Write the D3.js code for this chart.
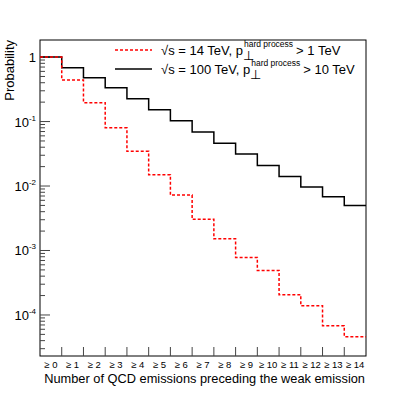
<!DOCTYPE html>
<html>
<head>
<meta charset="utf-8">
<script src="https://cdn.jsdelivr.net/npm/d3@7"></script>
<style>
  body { margin: 0; background: #fff; }
  svg { display: block; font-family: "Liberation Sans", Arial, sans-serif; }
</style>
</head>
<body>
<svg id="chart" width="407" height="396"></svg>
<script>
// ---- data ----
const binLabels = ['0', '1', '2', '3', '4', '5', '6', '7', '8', '9', '10', '11', '12', '13', '14'];
const prob100 = [1.0, 0.68, 0.48, 0.334, 0.226, 0.152, 0.103, 0.0688, 0.0459, 0.0313, 0.0209, 0.0141, 0.0097, 0.0068, 0.0050];
const prob14 = [1.0, 0.44, 0.196, 0.080, 0.0345, 0.0150, 0.00724, 0.00304, 0.00152, 0.00078, 0.00049, 0.000206, 0.000139, 0.000068, 0.000046];
const yDecades = [0, -1, -2, -3, -4];

// ---- layout ----
const frame = { left: 40, right: 366, top: 40, bottom: 356 };
const svg = d3.select('#chart');

const x = d3.scaleLinear().domain([0, binLabels.length]).range([frame.left, frame.right]);
const y = d3.scaleLog().domain([2.31e-5, 1.84]).range([frame.bottom, frame.top]);

// step path for a histogram
function stepPath(values) {
  const pts = [];
  values.forEach((v, i) => {
    pts.push([x(i), y(v)]);
    pts.push([x(i + 1), y(v)]);
  });
  return d3.line()(pts);
}

// frame
svg.append('rect')
  .attr('x', frame.left).attr('y', frame.top)
  .attr('width', frame.right - frame.left).attr('height', frame.bottom - frame.top)
  .attr('fill', 'none').attr('stroke', '#000').attr('stroke-width', 1);

// y ticks (major + minor)
const [yMin, yMax] = y.domain();
for (let e = -5; e <= 0; e++) {
  for (let m = 1; m <= 9; m++) {
    const v = m * Math.pow(10, e);
    if (v < yMin || v > yMax) continue;
    const len = m === 1 ? 10 : 5;
    svg.append('line')
      .attr('x1', frame.left).attr('x2', frame.left + len)
      .attr('y1', y(v)).attr('y2', y(v))
      .attr('stroke', '#444').attr('stroke-width', 1);
  }
}

// y tick labels
yDecades.forEach(d => {
  const t = svg.append('text')
    .attr('x', 36).attr('y', y(Math.pow(10, d)) + 5)
    .attr('text-anchor', 'end')
    .attr('font-size', 13);
  if (d === 0) {
    t.text('1');
  } else {
    t.append('tspan').text('10');
    t.append('tspan').attr('font-size', 8).attr('dy', -6).text(String(d));
  }
});

// x ticks
d3.range(1, binLabels.length).forEach(i => {
  svg.append('line')
    .attr('x1', x(i)).attr('x2', x(i))
    .attr('y1', frame.bottom).attr('y2', frame.bottom - 9)
    .attr('stroke', '#444').attr('stroke-width', 1);
});

// x tick labels
binLabels.forEach((lab, i) => {
  svg.append('text')
    .attr('x', x(i + 0.5)).attr('y', 368)
    .attr('text-anchor', 'middle')
    .attr('font-size', 9.5)
    .text('\u2265 ' + lab);
});

// axis titles
svg.append('text')
  .attr('x', frame.right - 1).attr('y', 383)
  .attr('text-anchor', 'end')
  .attr('font-size', 12.8)
  .text('Number of QCD emissions preceding the weak emission');

svg.append('text')
  .attr('transform', `translate(14, ${frame.top}) rotate(-90)`)
  .attr('text-anchor', 'end')
  .attr('font-size', 13)
  .text('Probability');

// histograms
svg.append('path')
  .attr('d', stepPath(prob100))
  .attr('fill', 'none').attr('stroke', '#000').attr('stroke-width', 1.5);

svg.append('path')
  .attr('d', stepPath(prob14))
  .attr('fill', 'none').attr('stroke', '#ff0000').attr('stroke-width', 1.5)
  .attr('stroke-dasharray', '3,2');

// legend
const legend = [
  { dash: '3,2', color: '#ff0000', rs: '14', cut: '1', yy: 50 },
  { dash: null, color: '#000', rs: '100', cut: '10', yy: 69 }
];
legend.forEach(l => {
  svg.append('line')
    .attr('x1', 115).attr('x2', 152)
    .attr('y1', l.yy).attr('y2', l.yy)
    .attr('stroke', l.color).attr('stroke-width', 1.5)
    .attr('stroke-dasharray', l.dash);
  const t = svg.append('text')
    .attr('x', 161).attr('y', l.yy + 5)
    .attr('font-size', 13);
  t.append('tspan').text(`\u221As = ${l.rs} TeV, p`);
  const px = 161 + t.node().getComputedTextLength();
  svg.append('text')
    .attr('x', px).attr('y', l.yy + 10)
    .attr('font-size', 13).text('\u22A5');
  const sup = svg.append('text')
    .attr('x', px + 1).attr('y', l.yy - 3)
    .attr('font-size', 8.5).text('hard process');
  const sw = sup.node().getComputedTextLength();
  svg.append('text')
    .attr('x', px + sw + 4).attr('y', l.yy + 5)
    .attr('font-size', 13).text(`> ${l.cut} TeV`);
});
</script>
</body>
</html>
